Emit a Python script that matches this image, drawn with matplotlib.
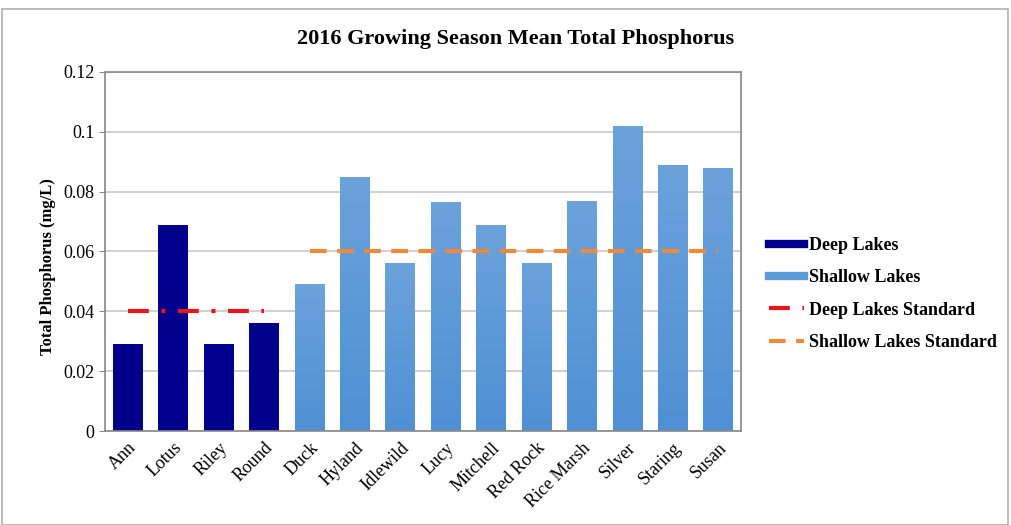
import matplotlib
matplotlib.use('Agg')
import matplotlib.pyplot as plt
import numpy as np
from matplotlib.lines import Line2D
from matplotlib.patches import Rectangle
from matplotlib.colors import LinearSegmentedColormap

# Lake names and mean total phosphorus (mg/L)
deep_lakes = ['Ann', 'Lotus', 'Riley', 'Round']
deep_tp = [0.029, 0.069, 0.029, 0.036]
shallow_lakes = ['Duck', 'Hyland', 'Idlewild', 'Lucy', 'Mitchell', 'Red Rock',
                 'Rice Marsh', 'Silver', 'Staring', 'Susan']
shallow_tp = [0.049, 0.085, 0.056, 0.0765, 0.069, 0.056, 0.077, 0.102, 0.089, 0.088]
deep_standard = 0.04
shallow_standard = 0.06
y_ticks = [0, 0.02, 0.04, 0.06, 0.08, 0.1, 0.12]
y_tick_labels = ['0', '0.02', '0.04', '0.06', '0.08', '0.1', '0.12']

plt.rcParams['font.family'] = ['Liberation Serif', 'DejaVu Serif']

fig = plt.figure(figsize=(10.11, 5.25), dpi=100)
ax = fig.add_axes([0.104, 0.179, 0.629, 0.684])

names = deep_lakes + shallow_lakes
x_deep = list(range(len(deep_lakes)))
x_shallow = list(range(len(deep_lakes), len(names)))

ax.bar(x_deep, deep_tp, width=0.66, color='#00008c', zorder=2)
shallow_bars = ax.bar(x_shallow, shallow_tp, width=0.66, color='#5b9bd9', zorder=2)

# subtle vertical gradient on the shallow bars, like the original
grad = LinearSegmentedColormap.from_list('g', ['#4f90d4', '#6ba2dc'])
for b in shallow_bars:
    x0, y0, w, h = b.get_x(), b.get_y(), b.get_width(), b.get_height()
    im = ax.imshow(np.linspace(0, 1, 100).reshape(-1, 1), cmap=grad, aspect='auto',
                   origin='lower', extent=(x0, x0 + w, y0, y0 + h), zorder=2.1)
    im.set_clip_path(b)

ax.plot(x_deep, [deep_standard] * len(x_deep), color='#e8151b', lw=3,
        dashes=(5, 3, 1, 3), zorder=3)
ax.plot(x_shallow, [shallow_standard] * len(x_shallow), color='#ee8a3c', lw=3,
        dashes=(4, 2.5), zorder=3)

ax.set_xlim(-0.5, len(names) - 0.5)
ax.set_ylim(0, 0.12)
ax.set_yticks(y_ticks)
ax.set_yticklabels(y_tick_labels, fontsize=13)
ax.set_xticks(range(len(names)))
ax.set_xticklabels(names, rotation=45, ha='right', rotation_mode='anchor', fontsize=13)
ax.tick_params(axis='x', length=0, pad=6)
ax.tick_params(axis='y', length=4, color='#888888')
ax.yaxis.grid(True, color='#c8c8c8', lw=1.2, zorder=0)
ax.set_axisbelow(True)
for s in ax.spines.values():
    s.set_color('#888888')
    s.set_linewidth(1.2)

ax.set_ylabel('Total Phosphorus (mg/L)', fontsize=12, fontweight='bold')
ax.yaxis.set_label_coords(-0.078, 0.457)
fig.text(0.51, 0.925, '2016 Growing Season Mean Total Phosphorus', fontsize=16,
         fontweight='bold', ha='center', va='center')

handles = [
    Line2D([0], [0], color='#00008c', lw=6),
    Line2D([0], [0], color='#5b9bd9', lw=6),
    Line2D([0], [0], color='#e8151b', lw=3, dashes=(5, 3, 1, 3)),
    Line2D([0], [0], color='#ee8a3c', lw=3, dashes=(4, 2.5)),
]
labels = ['Deep Lakes', 'Shallow Lakes', 'Deep Lakes Standard', 'Shallow Lakes Standard']
leg = fig.legend(handles, labels, loc='center left', bbox_to_anchor=(0.745, 0.44),
                 frameon=False, handlelength=1.9, handletextpad=0.3,
                 labelspacing=0.85, prop={'size': 13, 'weight': 'bold'})

# outer chart border
fig.patches.append(Rectangle((0.002, 0.0), 0.995, 0.982, transform=fig.transFigure,
                             fill=False, edgecolor='#b0b0b0', lw=1.2))

fig.savefig('out.png', dpi=100)
